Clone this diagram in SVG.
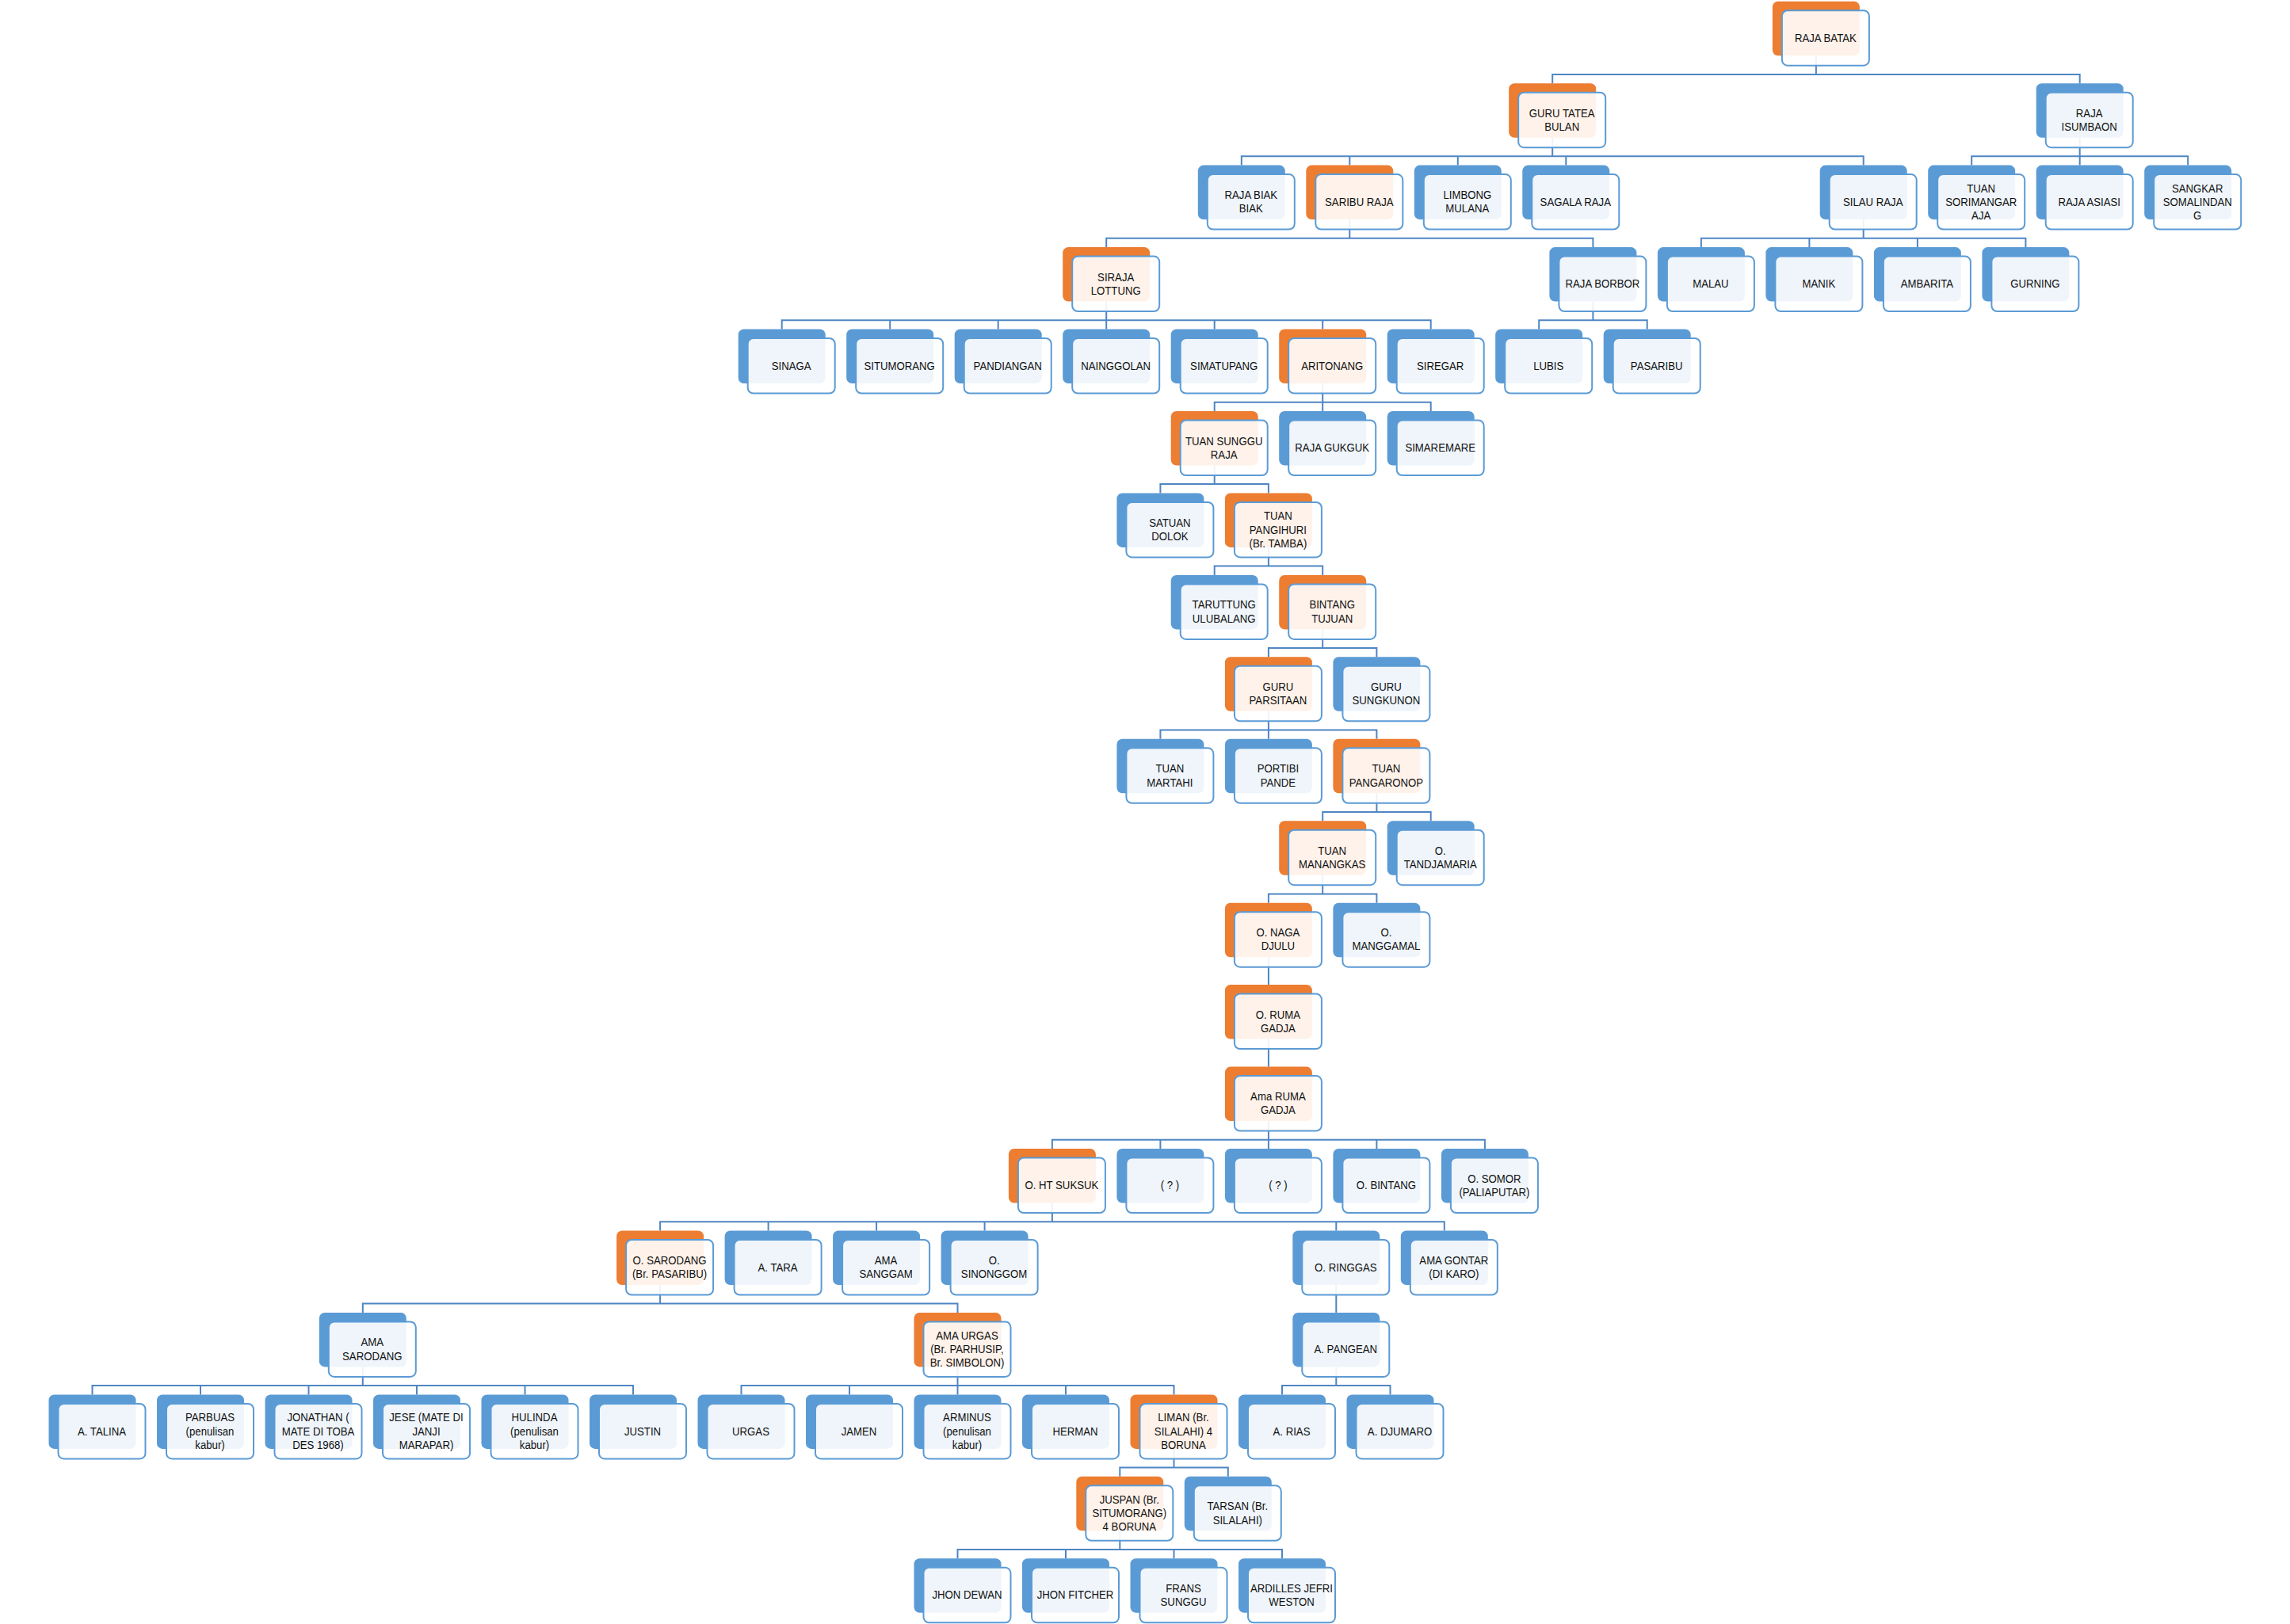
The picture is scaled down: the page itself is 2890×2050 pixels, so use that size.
<svg xmlns="http://www.w3.org/2000/svg" width="2890" height="2050" viewBox="0 0 2890 2050">
<style>
.bg{fill:#fff}
.b{fill:#5B9BD5;width:110px;height:68.5px;rx:7px}
.o .b{fill:#ED7D31}
.f{fill:#fff;fill-opacity:.9;stroke:#5B9BD5;stroke-width:2;x:12px;y:11.5px;width:110px;height:69.5px;rx:7px}
.t{font-family:'Liberation Sans',Arial,sans-serif;font-size:15px;fill:#111;text-anchor:middle;transform:translate(67px,0px) scale(.88,1)}
.c path{fill:none;stroke:#4F86C3;stroke-width:2}
</style>
<rect class="bg" width="2890" height="2050"/>
<g id="connectors" class="c">
<path d="M2291.9 70.2V93.9M1959.2 105.2V93.9H2624.7V105.2"/>
<path d="M1959.2 173.7V197.3M1566.8 208.6V197.3H2351.7V208.6M1703.3 197.3V208.6M1839.8 197.3V208.6M1976.3 197.3V208.6"/>
<path d="M2624.7 173.7V208.6M2488.2 208.6V197.3H2761.2V208.6"/>
<path d="M1703.3 277.1V300.8M1396.2 312.1V300.8H2010.4V312.1"/>
<path d="M2351.7 277.1V300.8M2146.9 312.1V300.8H2556.4V312.1M2283.4 300.8V312.1M2419.9 300.8V312.1"/>
<path d="M1396.2 380.6V415.5M986.7 415.5V404.2H1805.7V415.5M1123.2 404.2V415.5M1259.7 404.2V415.5M1532.7 404.2V415.5M1669.2 404.2V415.5"/>
<path d="M2010.4 380.6V404.2M1942.2 415.5V404.2H2078.7V415.5"/>
<path d="M1669.2 484V519M1532.7 519V507.7H1805.7V519"/>
<path d="M1532.7 587.5V611.1M1464.4 622.4V611.1H1600.9V622.4"/>
<path d="M1600.9 690.9V714.6M1532.7 725.9V714.6H1669.2V725.9"/>
<path d="M1669.2 794.4V818M1600.9 829.3V818H1737.4V829.3"/>
<path d="M1600.9 897.8V932.8M1464.4 932.8V921.5H1737.4V932.8"/>
<path d="M1737.4 1001.3V1024.9M1669.2 1036.2V1024.9H1805.7V1036.2"/>
<path d="M1669.2 1104.7V1128.4M1600.9 1139.7V1128.4H1737.4V1139.7"/>
<path d="M1600.9 1208.2V1243.1"/>
<path d="M1600.9 1311.6V1346.6"/>
<path d="M1600.9 1415.1V1450M1327.9 1450V1438.7H1873.9V1450M1464.4 1438.7V1450M1737.4 1438.7V1450"/>
<path d="M1327.9 1518.5V1542.2M833.1 1553.5V1542.2H1822.8V1553.5M969.6 1542.2V1553.5M1106.1 1542.2V1553.5M1242.6 1542.2V1553.5M1686.3 1542.2V1553.5"/>
<path d="M833.1 1622V1645.6M457.8 1656.9V1645.6H1208.5V1656.9"/>
<path d="M1686.3 1622V1656.9"/>
<path d="M457.8 1725.4V1749.1M116.5 1760.4V1749.1H799V1760.4M253 1749.1V1760.4M389.5 1749.1V1760.4M526 1749.1V1760.4M662.5 1749.1V1760.4"/>
<path d="M1208.5 1725.4V1760.4M935.5 1760.4V1749.1H1481.5V1760.4M1072 1749.1V1760.4M1345 1749.1V1760.4"/>
<path d="M1686.3 1725.4V1749.1M1618 1760.4V1749.1H1754.5V1760.4"/>
<path d="M1481.5 1828.9V1852.5M1413.3 1863.8V1852.5H1549.8V1863.8"/>
<path d="M1413.3 1932.3V1956M1208.5 1967.3V1956H1618V1967.3M1345 1956V1967.3M1481.5 1956V1967.3"/>
</g>
<g id="nodes">
<g id="raja-batak" class="n o" transform="translate(2236.9 1.7)"><rect class="b"/><rect class="f"/><text class="t"><tspan x="0" y="51.2">RAJA BATAK</tspan></text></g>
<g id="guru-tatea-bulan" class="n o" transform="translate(1904.2 105.2)"><rect class="b"/><rect class="f"/><text class="t"><tspan x="0" y="42.6">GURU TATEA</tspan><tspan x="0" y="59.8">BULAN</tspan></text></g>
<g id="raja-isumbaon" class="n" transform="translate(2569.7 105.2)"><rect class="b"/><rect class="f"/><text class="t"><tspan x="0" y="42.6">RAJA</tspan><tspan x="0" y="59.8">ISUMBAON</tspan></text></g>
<g id="raja-biak-biak" class="n" transform="translate(1511.8 208.6)"><rect class="b"/><rect class="f"/><text class="t"><tspan x="0" y="42.6">RAJA BIAK</tspan><tspan x="0" y="59.8">BIAK</tspan></text></g>
<g id="saribu-raja" class="n o" transform="translate(1648.3 208.6)"><rect class="b"/><rect class="f"/><text class="t"><tspan x="0" y="51.2">SARIBU RAJA</tspan></text></g>
<g id="limbong-mulana" class="n" transform="translate(1784.8 208.6)"><rect class="b"/><rect class="f"/><text class="t"><tspan x="0" y="42.6">LIMBONG</tspan><tspan x="0" y="59.8">MULANA</tspan></text></g>
<g id="sagala-raja" class="n" transform="translate(1921.3 208.6)"><rect class="b"/><rect class="f"/><text class="t"><tspan x="0" y="51.2">SAGALA RAJA</tspan></text></g>
<g id="silau-raja" class="n" transform="translate(2296.7 208.6)"><rect class="b"/><rect class="f"/><text class="t"><tspan x="0" y="51.2">SILAU RAJA</tspan></text></g>
<g id="tuan-sorimangaraja" class="n" transform="translate(2433.2 208.6)"><rect class="b"/><rect class="f"/><text class="t"><tspan x="0" y="34">TUAN</tspan><tspan x="0" y="51.2">SORIMANGAR</tspan><tspan x="0" y="68.4">AJA</tspan></text></g>
<g id="raja-asiasi" class="n" transform="translate(2569.7 208.6)"><rect class="b"/><rect class="f"/><text class="t"><tspan x="0" y="51.2">RAJA ASIASI</tspan></text></g>
<g id="sangkar-somalindang" class="n" transform="translate(2706.2 208.6)"><rect class="b"/><rect class="f"/><text class="t"><tspan x="0" y="34">SANGKAR</tspan><tspan x="0" y="51.2">SOMALINDAN</tspan><tspan x="0" y="68.4">G</tspan></text></g>
<g id="siraja-lottung" class="n o" transform="translate(1341.2 312.1)"><rect class="b"/><rect class="f"/><text class="t"><tspan x="0" y="42.6">SIRAJA</tspan><tspan x="0" y="59.8">LOTTUNG</tspan></text></g>
<g id="raja-borbor" class="n" transform="translate(1955.4 312.1)"><rect class="b"/><rect class="f"/><text class="t"><tspan x="0" y="51.2">RAJA BORBOR</tspan></text></g>
<g id="malau" class="n" transform="translate(2091.9 312.1)"><rect class="b"/><rect class="f"/><text class="t"><tspan x="0" y="51.2">MALAU</tspan></text></g>
<g id="manik" class="n" transform="translate(2228.4 312.1)"><rect class="b"/><rect class="f"/><text class="t"><tspan x="0" y="51.2">MANIK</tspan></text></g>
<g id="ambarita" class="n" transform="translate(2364.9 312.1)"><rect class="b"/><rect class="f"/><text class="t"><tspan x="0" y="51.2">AMBARITA</tspan></text></g>
<g id="gurning" class="n" transform="translate(2501.4 312.1)"><rect class="b"/><rect class="f"/><text class="t"><tspan x="0" y="51.2">GURNING</tspan></text></g>
<g id="sinaga" class="n" transform="translate(931.7 415.5)"><rect class="b"/><rect class="f"/><text class="t"><tspan x="0" y="51.2">SINAGA</tspan></text></g>
<g id="situmorang" class="n" transform="translate(1068.2 415.5)"><rect class="b"/><rect class="f"/><text class="t"><tspan x="0" y="51.2">SITUMORANG</tspan></text></g>
<g id="pandiangan" class="n" transform="translate(1204.7 415.5)"><rect class="b"/><rect class="f"/><text class="t"><tspan x="0" y="51.2">PANDIANGAN</tspan></text></g>
<g id="nainggolan" class="n" transform="translate(1341.2 415.5)"><rect class="b"/><rect class="f"/><text class="t"><tspan x="0" y="51.2">NAINGGOLAN</tspan></text></g>
<g id="simatupang" class="n" transform="translate(1477.7 415.5)"><rect class="b"/><rect class="f"/><text class="t"><tspan x="0" y="51.2">SIMATUPANG</tspan></text></g>
<g id="aritonang" class="n o" transform="translate(1614.2 415.5)"><rect class="b"/><rect class="f"/><text class="t"><tspan x="0" y="51.2">ARITONANG</tspan></text></g>
<g id="siregar" class="n" transform="translate(1750.7 415.5)"><rect class="b"/><rect class="f"/><text class="t"><tspan x="0" y="51.2">SIREGAR</tspan></text></g>
<g id="lubis" class="n" transform="translate(1887.2 415.5)"><rect class="b"/><rect class="f"/><text class="t"><tspan x="0" y="51.2">LUBIS</tspan></text></g>
<g id="pasaribu" class="n" transform="translate(2023.7 415.5)"><rect class="b"/><rect class="f"/><text class="t"><tspan x="0" y="51.2">PASARIBU</tspan></text></g>
<g id="tuan-sunggu-raja" class="n o" transform="translate(1477.7 519)"><rect class="b"/><rect class="f"/><text class="t"><tspan x="0" y="42.6">TUAN SUNGGU</tspan><tspan x="0" y="59.8">RAJA</tspan></text></g>
<g id="raja-gukguk" class="n" transform="translate(1614.2 519)"><rect class="b"/><rect class="f"/><text class="t"><tspan x="0" y="51.2">RAJA GUKGUK</tspan></text></g>
<g id="simaremare" class="n" transform="translate(1750.7 519)"><rect class="b"/><rect class="f"/><text class="t"><tspan x="0" y="51.2">SIMAREMARE</tspan></text></g>
<g id="satuan-dolok" class="n" transform="translate(1409.4 622.4)"><rect class="b"/><rect class="f"/><text class="t"><tspan x="0" y="42.6">SATUAN</tspan><tspan x="0" y="59.8">DOLOK</tspan></text></g>
<g id="tuan-pangihuri" class="n o" transform="translate(1545.9 622.4)"><rect class="b"/><rect class="f"/><text class="t"><tspan x="0" y="34">TUAN</tspan><tspan x="0" y="51.2">PANGIHURI</tspan><tspan x="0" y="68.4">(Br. TAMBA)</tspan></text></g>
<g id="taruttung-ulubalang" class="n" transform="translate(1477.7 725.9)"><rect class="b"/><rect class="f"/><text class="t"><tspan x="0" y="42.6">TARUTTUNG</tspan><tspan x="0" y="59.8">ULUBALANG</tspan></text></g>
<g id="bintang-tujuan" class="n o" transform="translate(1614.2 725.9)"><rect class="b"/><rect class="f"/><text class="t"><tspan x="0" y="42.6">BINTANG</tspan><tspan x="0" y="59.8">TUJUAN</tspan></text></g>
<g id="guru-parsitaan" class="n o" transform="translate(1545.9 829.3)"><rect class="b"/><rect class="f"/><text class="t"><tspan x="0" y="42.6">GURU</tspan><tspan x="0" y="59.8">PARSITAAN</tspan></text></g>
<g id="guru-sungkunon" class="n" transform="translate(1682.4 829.3)"><rect class="b"/><rect class="f"/><text class="t"><tspan x="0" y="42.6">GURU</tspan><tspan x="0" y="59.8">SUNGKUNON</tspan></text></g>
<g id="tuan-martahi" class="n" transform="translate(1409.4 932.8)"><rect class="b"/><rect class="f"/><text class="t"><tspan x="0" y="42.6">TUAN</tspan><tspan x="0" y="59.8">MARTAHI</tspan></text></g>
<g id="portibi-pande" class="n" transform="translate(1545.9 932.8)"><rect class="b"/><rect class="f"/><text class="t"><tspan x="0" y="42.6">PORTIBI</tspan><tspan x="0" y="59.8">PANDE</tspan></text></g>
<g id="tuan-pangaronop" class="n o" transform="translate(1682.4 932.8)"><rect class="b"/><rect class="f"/><text class="t"><tspan x="0" y="42.6">TUAN</tspan><tspan x="0" y="59.8">PANGARONOP</tspan></text></g>
<g id="tuan-manangkas" class="n o" transform="translate(1614.2 1036.2)"><rect class="b"/><rect class="f"/><text class="t"><tspan x="0" y="42.6">TUAN</tspan><tspan x="0" y="59.8">MANANGKAS</tspan></text></g>
<g id="o-tandjamaria" class="n" transform="translate(1750.7 1036.2)"><rect class="b"/><rect class="f"/><text class="t"><tspan x="0" y="42.6">O.</tspan><tspan x="0" y="59.8">TANDJAMARIA</tspan></text></g>
<g id="o-naga-djulu" class="n o" transform="translate(1545.9 1139.7)"><rect class="b"/><rect class="f"/><text class="t"><tspan x="0" y="42.6">O. NAGA</tspan><tspan x="0" y="59.8">DJULU</tspan></text></g>
<g id="o-manggamal" class="n" transform="translate(1682.4 1139.7)"><rect class="b"/><rect class="f"/><text class="t"><tspan x="0" y="42.6">O.</tspan><tspan x="0" y="59.8">MANGGAMAL</tspan></text></g>
<g id="o-ruma-gadja" class="n o" transform="translate(1545.9 1243.1)"><rect class="b"/><rect class="f"/><text class="t"><tspan x="0" y="42.6">O. RUMA</tspan><tspan x="0" y="59.8">GADJA</tspan></text></g>
<g id="ama-ruma-gadja" class="n o" transform="translate(1545.9 1346.6)"><rect class="b"/><rect class="f"/><text class="t"><tspan x="0" y="42.6">Ama RUMA</tspan><tspan x="0" y="59.8">GADJA</tspan></text></g>
<g id="o-ht-suksuk" class="n o" transform="translate(1272.9 1450)"><rect class="b"/><rect class="f"/><text class="t"><tspan x="0" y="51.2">O. HT SUKSUK</tspan></text></g>
<g id="unknown-1" class="n" transform="translate(1409.4 1450)"><rect class="b"/><rect class="f"/><text class="t"><tspan x="0" y="51.2">( ? )</tspan></text></g>
<g id="unknown-2" class="n" transform="translate(1545.9 1450)"><rect class="b"/><rect class="f"/><text class="t"><tspan x="0" y="51.2">( ? )</tspan></text></g>
<g id="o-bintang" class="n" transform="translate(1682.4 1450)"><rect class="b"/><rect class="f"/><text class="t"><tspan x="0" y="51.2">O. BINTANG</tspan></text></g>
<g id="o-somor" class="n" transform="translate(1818.9 1450)"><rect class="b"/><rect class="f"/><text class="t"><tspan x="0" y="42.6">O. SOMOR</tspan><tspan x="0" y="59.8">(PALIAPUTAR)</tspan></text></g>
<g id="o-sarodang" class="n o" transform="translate(778.1 1553.5)"><rect class="b"/><rect class="f"/><text class="t"><tspan x="0" y="42.6">O. SARODANG</tspan><tspan x="0" y="59.8">(Br. PASARIBU)</tspan></text></g>
<g id="a-tara" class="n" transform="translate(914.6 1553.5)"><rect class="b"/><rect class="f"/><text class="t"><tspan x="0" y="51.2">A. TARA</tspan></text></g>
<g id="ama-sanggam" class="n" transform="translate(1051.1 1553.5)"><rect class="b"/><rect class="f"/><text class="t"><tspan x="0" y="42.6">AMA</tspan><tspan x="0" y="59.8">SANGGAM</tspan></text></g>
<g id="o-sinonggom" class="n" transform="translate(1187.6 1553.5)"><rect class="b"/><rect class="f"/><text class="t"><tspan x="0" y="42.6">O.</tspan><tspan x="0" y="59.8">SINONGGOM</tspan></text></g>
<g id="o-ringgas" class="n" transform="translate(1631.3 1553.5)"><rect class="b"/><rect class="f"/><text class="t"><tspan x="0" y="51.2">O. RINGGAS</tspan></text></g>
<g id="ama-gontar" class="n" transform="translate(1767.8 1553.5)"><rect class="b"/><rect class="f"/><text class="t"><tspan x="0" y="42.6">AMA GONTAR</tspan><tspan x="0" y="59.8">(DI KARO)</tspan></text></g>
<g id="ama-sarodang" class="n" transform="translate(402.8 1656.9)"><rect class="b"/><rect class="f"/><text class="t"><tspan x="0" y="42.6">AMA</tspan><tspan x="0" y="59.8">SARODANG</tspan></text></g>
<g id="ama-urgas" class="n o" transform="translate(1153.5 1656.9)"><rect class="b"/><rect class="f"/><text class="t"><tspan x="0" y="34">AMA URGAS</tspan><tspan x="0" y="51.2">(Br. PARHUSIP,</tspan><tspan x="0" y="68.4">Br. SIMBOLON)</tspan></text></g>
<g id="a-pangean" class="n" transform="translate(1631.3 1656.9)"><rect class="b"/><rect class="f"/><text class="t"><tspan x="0" y="51.2">A. PANGEAN</tspan></text></g>
<g id="a-talina" class="n" transform="translate(61.5 1760.4)"><rect class="b"/><rect class="f"/><text class="t"><tspan x="0" y="51.2">A. TALINA</tspan></text></g>
<g id="parbuas" class="n" transform="translate(198 1760.4)"><rect class="b"/><rect class="f"/><text class="t"><tspan x="0" y="34">PARBUAS</tspan><tspan x="0" y="51.2">(penulisan</tspan><tspan x="0" y="68.4">kabur)</tspan></text></g>
<g id="jonathan" class="n" transform="translate(334.5 1760.4)"><rect class="b"/><rect class="f"/><text class="t"><tspan x="0" y="34">JONATHAN (</tspan><tspan x="0" y="51.2">MATE DI TOBA</tspan><tspan x="0" y="68.4">DES 1968)</tspan></text></g>
<g id="jese" class="n" transform="translate(471 1760.4)"><rect class="b"/><rect class="f"/><text class="t"><tspan x="0" y="34">JESE (MATE DI</tspan><tspan x="0" y="51.2">JANJI</tspan><tspan x="0" y="68.4">MARAPAR)</tspan></text></g>
<g id="hulinda" class="n" transform="translate(607.5 1760.4)"><rect class="b"/><rect class="f"/><text class="t"><tspan x="0" y="34">HULINDA</tspan><tspan x="0" y="51.2">(penulisan</tspan><tspan x="0" y="68.4">kabur)</tspan></text></g>
<g id="justin" class="n" transform="translate(744 1760.4)"><rect class="b"/><rect class="f"/><text class="t"><tspan x="0" y="51.2">JUSTIN</tspan></text></g>
<g id="urgas" class="n" transform="translate(880.5 1760.4)"><rect class="b"/><rect class="f"/><text class="t"><tspan x="0" y="51.2">URGAS</tspan></text></g>
<g id="jamen" class="n" transform="translate(1017 1760.4)"><rect class="b"/><rect class="f"/><text class="t"><tspan x="0" y="51.2">JAMEN</tspan></text></g>
<g id="arminus" class="n" transform="translate(1153.5 1760.4)"><rect class="b"/><rect class="f"/><text class="t"><tspan x="0" y="34">ARMINUS</tspan><tspan x="0" y="51.2">(penulisan</tspan><tspan x="0" y="68.4">kabur)</tspan></text></g>
<g id="herman" class="n" transform="translate(1290 1760.4)"><rect class="b"/><rect class="f"/><text class="t"><tspan x="0" y="51.2">HERMAN</tspan></text></g>
<g id="liman" class="n o" transform="translate(1426.5 1760.4)"><rect class="b"/><rect class="f"/><text class="t"><tspan x="0" y="34">LIMAN (Br.</tspan><tspan x="0" y="51.2">SILALAHI) 4</tspan><tspan x="0" y="68.4">BORUNA</tspan></text></g>
<g id="a-rias" class="n" transform="translate(1563 1760.4)"><rect class="b"/><rect class="f"/><text class="t"><tspan x="0" y="51.2">A. RIAS</tspan></text></g>
<g id="a-djumaro" class="n" transform="translate(1699.5 1760.4)"><rect class="b"/><rect class="f"/><text class="t"><tspan x="0" y="51.2">A. DJUMARO</tspan></text></g>
<g id="juspan" class="n o" transform="translate(1358.3 1863.8)"><rect class="b"/><rect class="f"/><text class="t"><tspan x="0" y="34">JUSPAN (Br.</tspan><tspan x="0" y="51.2">SITUMORANG)</tspan><tspan x="0" y="68.4">4 BORUNA</tspan></text></g>
<g id="tarsan" class="n" transform="translate(1494.8 1863.8)"><rect class="b"/><rect class="f"/><text class="t"><tspan x="0" y="42.6">TARSAN (Br.</tspan><tspan x="0" y="59.8">SILALAHI)</tspan></text></g>
<g id="jhon-dewan" class="n" transform="translate(1153.5 1967.3)"><rect class="b"/><rect class="f"/><text class="t"><tspan x="0" y="51.2">JHON DEWAN</tspan></text></g>
<g id="jhon-fitcher" class="n" transform="translate(1290 1967.3)"><rect class="b"/><rect class="f"/><text class="t"><tspan x="0" y="51.2">JHON FITCHER</tspan></text></g>
<g id="frans-sunggu" class="n" transform="translate(1426.5 1967.3)"><rect class="b"/><rect class="f"/><text class="t"><tspan x="0" y="42.6">FRANS</tspan><tspan x="0" y="59.8">SUNGGU</tspan></text></g>
<g id="ardilles" class="n" transform="translate(1563 1967.3)"><rect class="b"/><rect class="f"/><text class="t"><tspan x="0" y="42.6">ARDILLES JEFRI</tspan><tspan x="0" y="59.8">WESTON</tspan></text></g>
</g>
</svg>
